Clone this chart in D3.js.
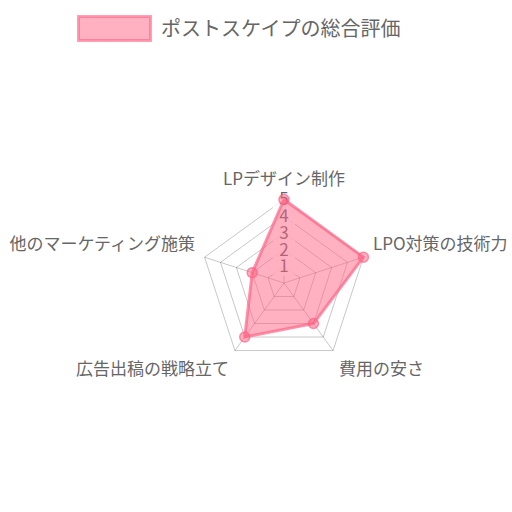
<!DOCTYPE html>
<html lang="ja">
<head>
    <meta charset="UTF-8">
    <title>ポストスケイプの総合評価</title>
    <script src="https://d3js.org/d3.v7.min.js"></script>
    <style>
        html, body { margin: 0; padding: 0; background: #fff; }
        svg { display: block; }
        text { font-family: "Noto Sans CJK JP", "Noto Sans", sans-serif; fill: #666; }
    </style>
</head>
<body>
    <svg width="512" height="512"></svg>
    <script>
        const labels = ["LPデザイン制作", "LPO対策の技術力", "費用の安さ", "広告出稿の戦略立て", "他のマーケティング施策"];
        const values = [5, 5, 3, 4, 2];
        const tickValues = [1, 2, 3, 4, 5];
        const seriesName = "ポストスケイプの総合評価";

        const svg = d3.select("svg");
        const cx = 284, cy = 283, radius = 83.5;
        const pink = "rgb(255,99,132)";

        const r = d3.scaleLinear().domain([0, 5]).range([0, radius]);
        const angle = d3.scaleLinear().domain([0, labels.length]).range([0, 2 * Math.PI]);
        const pt = (i, v) => [cx + r(v) * Math.sin(angle(i)), cy - r(v) * Math.cos(angle(i))];

        // legend
        const legend = svg.append("g");
        legend.append("rect")
            .attr("x", 78.5).attr("y", 16.5).attr("width", 72).attr("height", 24)
            .attr("fill", pink).attr("fill-opacity", 0.5)
            .attr("stroke", pink).attr("stroke-opacity", 0.6).attr("stroke-width", 3);
        legend.append("text")
            .attr("x", 161).attr("y", 29).attr("dy", "0.35em")
            .style("font-size", "20px")
            .text(seriesName);

        // grid
        const grid = svg.append("g");
        tickValues.forEach(t => {
            grid.append("polygon")
                .attr("points", labels.map((_, i) => pt(i, t).join(",")).join(" "))
                .attr("fill", "none").attr("stroke", "rgba(0,0,0,0.22)").attr("stroke-width", 1);
        });
        labels.forEach((_, i) => {
            const [x, y] = pt(i, 5);
            grid.append("line")
                .attr("x1", cx).attr("y1", cy).attr("x2", x).attr("y2", y)
                .attr("stroke", "rgba(0,0,0,0.22)").attr("stroke-width", 1);
        });

        // tick labels with backdrops (drawn under the dataset)
        const ticks = svg.append("g");
        tickValues.forEach(t => {
            const y = cy - r(t);
            ticks.append("rect")
                .attr("x", cx - 11).attr("y", y - 10).attr("width", 22).attr("height", 20)
                .attr("fill", "rgba(255,255,255,0.75)");
            ticks.append("text")
                .attr("x", cx).attr("y", y).attr("dy", "0.35em")
                .attr("text-anchor", "middle")
                .style("font-size", "17px")
                .text(t);
        });

        // point labels
        const pl = svg.append("g");
        labels.forEach((lab, i) => {
            const a = angle(i);
            const x = cx + (radius + 10) * Math.sin(a);
            const y = cy - (radius + 10) * Math.cos(a);
            const s = Math.sin(a), c = Math.cos(a);
            const anchor = Math.abs(s) < 0.01 ? "middle" : (s > 0 ? "start" : "end");
            pl.append("text")
                .attr("x", x)
                .attr("y", c > 0 ? y - 10 : y + 10)
                .attr("dy", "0.35em")
                .attr("text-anchor", anchor)
                .style("font-size", "17px")
                .text(lab);
        });

        // dataset
        const line = d3.lineRadial()
            .angle((d, i) => angle(i))
            .radius(d => r(d))
            .curve(d3.curveLinearClosed);

        const ds = svg.append("g").attr("transform", `translate(${cx},${cy})`);
        ds.append("path")
            .datum(values)
            .attr("d", line)
            .attr("fill", pink).attr("fill-opacity", 0.5)
            .attr("stroke", pink).attr("stroke-opacity", 0.7).attr("stroke-width", 3)
            .attr("stroke-linejoin", "round");

        ds.selectAll("circle")
            .data(values)
            .enter().append("circle")
            .attr("cx", (d, i) => r(d) * Math.sin(angle(i)))
            .attr("cy", (d, i) => -r(d) * Math.cos(angle(i)))
            .attr("r", 5)
            .attr("fill", pink).attr("fill-opacity", 0.5)
            .attr("stroke", pink).attr("stroke-opacity", 0.7).attr("stroke-width", 1.5);
    </script>
</body>
</html>
